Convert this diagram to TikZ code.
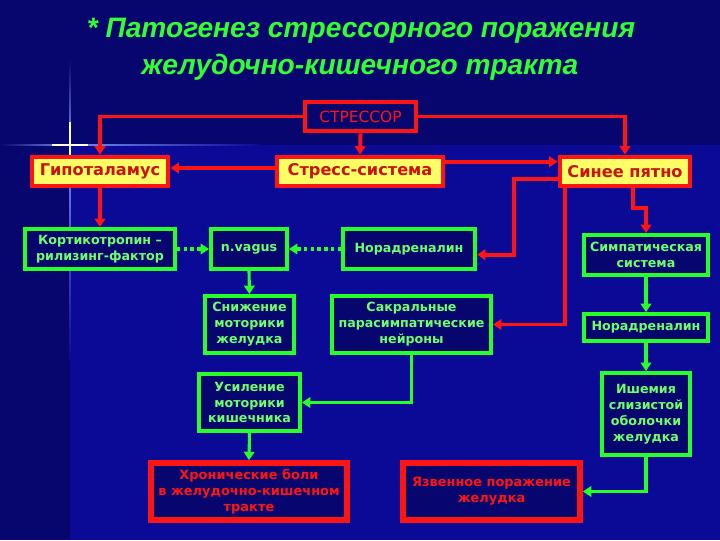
\documentclass[tikz,border=0pt]{standalone}
\usepackage{fontspec}
\setmainfont{DejaVu Sans}
\newfontfamily\titlefont{Liberation Sans}
\usetikzlibrary{arrows.meta,positioning}
\definecolor{bgdark}{RGB}{6,6,110}
\definecolor{bglow}{RGB}{10,10,150}
\definecolor{boxred}{RGB}{255,20,20}
\definecolor{textred}{RGB}{200,20,10}
\definecolor{boxyellow}{RGB}{255,255,102}
\definecolor{boxgreen}{RGB}{40,255,40}
\definecolor{textgreen}{RGB}{110,255,110}
\definecolor{titlegreen}{RGB}{50,255,50}
\definecolor{flare}{RGB}{120,140,240}

\tikzset{
  yellowbox/.style={draw=boxred, line width=3.4pt, fill=boxyellow, text=textred,
    font=\bfseries\fontsize{11.5}{14}\selectfont, inner sep=0pt, minimum height=0.725cm},
  greenbox/.style={draw=boxgreen, line width=2.8pt, fill=bgdark, text=textgreen,
    font=\bfseries\fontsize{9}{11.3}\selectfont, inner sep=0pt, align=center},
  redbox/.style={draw=boxred, line width=4pt, fill=bgdark, text=boxred,
    font=\bfseries\fontsize{9.2}{11.5}\selectfont, inner sep=0pt, align=center},
  redline/.style={draw=boxred, line width=2.8pt, -{Triangle[length=6pt,width=7.5pt]}},
  greenline/.style={draw=boxgreen, line width=2.2pt, -{Triangle[length=6pt,width=7.5pt]}},
  dotline/.style={draw=boxgreen, line width=2.4pt, dash pattern=on 2.4pt off 2.4pt,
    -{Triangle[length=6pt,width=7.5pt]}}
}

\begin{document}
\begin{tikzpicture}[x=0.025cm, y=-0.025cm]
    % background
    \fill[bgdark] (0,0) rectangle (720,540);
    \fill[bglow] (70,145) rectangle (720,540);
    \shade[left color=bgdark, right color=flare] (0,144.3) rectangle (70,145.7);
    \shade[left color=flare, right color=bglow] (70,144.3) rectangle (260,145.7);
    \shade[top color=bgdark, bottom color=flare] (69.4,60) rectangle (70.6,145);
    \shade[top color=flare, bottom color=bglow] (69.4,145) rectangle (70.6,360);
    \draw[white, line width=0.9pt] (70,122) -- (70,168) (52,145) -- (88,145);
    \useasboundingbox (0,0) rectangle (720,540);

    % title
    \node[text=titlegreen, font=\titlefont\bfseries\itshape\fontsize{20}{24}\selectfont] (title1) at (361,31) {* Патогенез стрессорного поражения};
    \node[text=titlegreen, font=\titlefont\bfseries\itshape\fontsize{20}{24}\selectfont] (title2) at (360,67) {желудочно-кишечного тракта};

    % top level
    \node[draw=boxred, line width=3.4pt, fill=bgdark, text=boxred, font=\fontsize{11}{13}\selectfont,
      inner sep=0pt, minimum width=2.775cm, minimum height=0.725cm] (stressor) at (360.5,116.5) {СТРЕССОР};
    \node[yellowbox, minimum width=3.4cm] (hypo) at (100,171.5) {Гипоталамус};
    \node[yellowbox, minimum width=4.15cm] (stresssys) at (360,171.5) {Стресс-система};
    \node[yellowbox, minimum width=3.25cm] (spot) at (625,171.5) {Синее пятно};

    % second row
    \node[greenbox, minimum width=3.75cm, minimum height=1cm] (crf) at (100,249) {Кортикотропин –\\рилизинг-фактор};
    \node[greenbox, minimum width=1.9cm, minimum height=1cm] (vagus) at (249,249) {n.vagus};
    \node[greenbox, minimum width=3.3cm, minimum height=1cm] (norad1) at (409,249) {Норадреналин};
    \node[greenbox, minimum width=3.1cm, minimum height=1cm] (symp) at (646,255) {Симпатическая\\система};

    % third row
    \node[greenbox, minimum width=2.225cm, minimum height=1.425cm] (decrease) at (249.5,324.5) {Снижение\\моторики\\желудка};
    \node[greenbox, minimum width=3.975cm, minimum height=1.425cm] (sacral) at (411.5,324.5) {Сакральные\\парасимпатические\\нейроны};
    \node[greenbox, minimum width=3.1cm, minimum height=0.675cm] (norad2) at (646,327.5) {Норадреналин};
    \node[greenbox, minimum width=2.525cm, minimum height=1.425cm] (increase) at (249.5,402.5) {Усиление\\моторики\\кишечника};
    \node[greenbox, minimum width=2.2cm, minimum height=2.05cm] (isch) at (646,414) {Ишемия\\слизистой\\оболочки\\желудка};

    % outcomes
    \node[redbox, minimum width=4.9cm, minimum height=1.425cm] (chronic) at (249,491.5) {Хронические боли\\в желудочно-кишечном\\тракте};
    \node[redbox, minimum width=4.425cm, minimum height=1.425cm] (ulcer) at (491.5,491.5) {Язвенное поражение\\желудка};

    % red connectors
    \draw[redline] (stressor.west) -| (hypo.north);
    \draw[redline] (stressor.east) -| (spot.north);
    \draw[redline] (stressor.south) -- (stresssys.north);
    \draw[redline] ([yshift=2.5pt]stresssys.west) -- ([yshift=2.5pt]hypo.east);
    \draw[redline] ([yshift=7pt]stresssys.east) -- ([yshift=7pt]spot.west);
    \draw[redline] (hypo.south) -- (crf.north);
    \draw[redline] ([yshift=-5pt]spot.west) -- ++(-44,0) |- ([yshift=-4pt]norad1.east);
    \draw[redline] ([xshift=5pt]spot.south west) |- (sacral.east);
    \draw[redline] ([xshift=6pt]spot.south) -- ++(0,20) -| (symp.north);

    % green connectors
    \draw[dotline] (crf.east) -- (vagus.west);
    \draw[dotline] (norad1.west) -- (vagus.east);
    \draw[greenline] (vagus.south) -- (decrease.north);
    \draw[greenline] (symp.south) -- (norad2.north);
    \draw[greenline] (norad2.south) -- (isch.north);
    \draw[greenline] (sacral.south) |- (increase.east);
    \draw[greenline] (increase.south) -- (chronic.north);
    \draw[greenline] (isch.south) |- (ulcer.east);
\end{tikzpicture}
\end{document}
